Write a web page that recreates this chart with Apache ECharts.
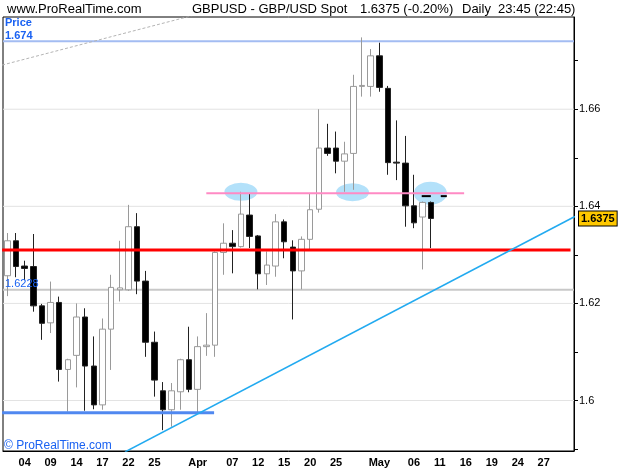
<!DOCTYPE html>
<html>
<head>
<meta charset="utf-8">
<script src="https://cdn.jsdelivr.net/npm/echarts@6/dist/echarts.min.js"></script>
<style>
  html, body { margin: 0; padding: 0; background: #fff; }
  #chart { width: 625px; height: 469px; }
</style>
</head>
<body>
<div id="chart"></div>
<script>
// trading days, 2 Mar 2011 .. 1 Jun 2011
const days = [
  '02','03','04','07','08','09','10','11','14','15','16','17','18','21','22','23','24','25','28','29','30','31',
  'Apr','04','05','06','07','08','11','12','13','14','15','18','19','20','21','22','25','26','27','28','29',
  'May','03','04','05','06','09','10','11','12','13','16','17','18','19','20','23','24','25','26','27','30','31',
  'Jun'
]
// which day labels are printed under the axis
const labelIdx = [2, 5, 8, 11, 14, 17, 22, 26, 29, 32, 35, 38, 43, 47, 50, 53, 56, 59, 62]

const opens = [
  1.6257, 1.6329, 1.6277, 1.6276, 1.6195, 1.6160, 1.6202, 1.6064, 1.6093, 1.6172,
  1.6071, 1.5991, 1.6147, 1.6228, 1.6228, 1.6358, 1.6246, 1.6120, 1.6020, 1.5981,
  1.6018, 1.6084, 1.6023, 1.6111, 1.6114, 1.6305, 1.6324, 1.6317, 1.6382, 1.6339,
  1.6261, 1.6277, 1.6368, 1.6316, 1.6267, 1.6332, 1.6394, 1.6520, 1.6520, 1.6493,
  1.6509, 1.6647, 1.6647, 1.6710, 1.6643, 1.6491, 1.6489, 1.6401, 1.6378, 1.6408
]
const closes = [
  1.6329, 1.6276, 1.6272, 1.6195, 1.6159, 1.6202, 1.6064, 1.6084, 1.6172, 1.6071,
  1.5991, 1.6147, 1.6233, 1.6232, 1.6358, 1.6246, 1.6120, 1.6042, 1.5981, 1.6020,
  1.6084, 1.6023, 1.6111, 1.6114, 1.6305, 1.6324, 1.6317, 1.6384, 1.6338, 1.6261,
  1.6279, 1.6368, 1.6327, 1.6267, 1.6332, 1.6393, 1.6520, 1.6509, 1.6493, 1.6508,
  1.6647, 1.6649, 1.6710, 1.6645, 1.6490, 1.6489, 1.6401, 1.6366, 1.6408, 1.6375
]
const lows = [
  1.6215, 1.6254, 1.6248, 1.6183, 1.6125, 1.6139, 1.6039, 1.5977, 1.6027, 1.5979,
  1.5982, 1.5981, 1.6063, 1.6204, 1.6226, 1.6219, 1.6090, 1.6008, 1.5939, 1.5946,
  1.5981, 1.6017, 1.5974, 1.6092, 1.6090, 1.6259, 1.6262, 1.6315, 1.6314, 1.6229,
  1.6238, 1.6255, 1.6293, 1.6167, 1.6229, 1.6312, 1.6387, 1.6504, 1.6468, 1.6430,
  1.6434, 1.6626, 1.6626, 1.6636, 1.6465, 1.6454, 1.6358, 1.6355, 1.6270, 1.6314
]
const highs = [
  1.6345, 1.6345, 1.6288, 1.6343, 1.6199, 1.6245, 1.6214, 1.6086, 1.6200, 1.6190,
  1.6132, 1.6169, 1.6259, 1.6329, 1.6403, 1.6386, 1.6267, 1.6142, 1.6038, 1.6036,
  1.6086, 1.6152, 1.6132, 1.6180, 1.6307, 1.6365, 1.6351, 1.6430, 1.6427, 1.6341,
  1.6307, 1.6384, 1.6373, 1.6330, 1.6338, 1.6426, 1.6600, 1.6570, 1.6554, 1.6533,
  1.6671, 1.6748, 1.6724, 1.6737, 1.6648, 1.6577, 1.6545, 1.6465, 1.6410, 1.6410
]

const yTicks = [1.59, 1.60, 1.61, 1.62, 1.63, 1.64, 1.65, 1.66, 1.67]
const yLabels = [1.60, 1.62, 1.64, 1.66]

// drawn levels and studies (x in day index)
const topLevel = 1.674
const greyLevel = 1.6228
const redLevel = 1.6310
const redSpan = [-0.6, 65.1]
const pinkLevel = 1.6427
const pinkSpan = [23.0, 52.8]
const lowLevel = 1.5975
const lowSpan = [-0.6, 23.9]
const lastPrice = 1.6375
const trendLine = [[13.6, 1.5894], [65.6, 1.6379]]
const dashLine = [[-0.6, 1.6691], [24.0, 1.6805]]
const circles = [[27.0, 1.6430], [39.9, 1.6429], [48.9, 1.6427]]
const ticks = [[[47.9, 1.6421], [48.95, 1.6421]], [[50.1, 1.6421], [50.8, 1.6421]]]

const chart = echarts.init(document.getElementById('chart'))
const font = '"Liberation Sans", Arial, sans-serif'
const blue = '#1a62f2'

function seg(points, color, width, z, type) {
  return {
    type: 'line', xAxisIndex: 1, yAxisIndex: 0, data: points, symbol: 'none',
    lineStyle: { color: color, width: width, type: type || 'solid' },
    silent: true, z: z
  }
}

function txt(x, y, text, size, color, weight) {
  return {
    type: 'text', x: x, y: y, z: 100,
    style: { text: text, fill: color, font: (weight || 'normal') + ' ' + size + 'px ' + font, verticalAlign: 'middle' }
  }
}

const option = {
  animation: false,
  backgroundColor: '#fff',
  textStyle: { fontFamily: font },
  grid: {
    left: 3, top: 17, right: 51, bottom: 18,
    show: true, borderColor: '#000', borderWidth: 1, backgroundColor: '#fff',
    outerBoundsMode: 'none'
  },
  xAxis: [
    {
      type: 'category', data: days, boundaryGap: true,
      axisLine: { show: true, onZero: false, lineStyle: { color: '#000' } },
      axisTick: { show: false },
      splitLine: { show: false },
      axisLabel: {
        interval: (i) => labelIdx.includes(i),
        color: '#000', fontSize: 11, fontWeight: 'bold', margin: 6
      }
    },
    { type: 'value', min: -0.5, max: 65.5, show: false }
  ],
  yAxis: {
    type: 'value', position: 'right', min: 1.5896, max: 1.6790,
    axisLine: { show: true, onZero: false, lineStyle: { color: '#000' } },
    axisTick: { show: true, inside: false, length: 4, customValues: yTicks, lineStyle: { color: '#000' } },
    axisLabel: { customValues: yLabels, color: '#000', fontSize: 11, margin: 5 },
    splitLine: { show: false }
  },
  series: [
    {
      type: 'scatter', xAxisIndex: 1, yAxisIndex: 0, silent: true, z: 1,
      symbol: 'circle',
      data: circles.map((c, i) => ({ value: c, symbolSize: i === 2 ? [33, 23] : [33, 18] })),
      itemStyle: { color: '#b3e1fa', opacity: 1 }
    },
    ...yLabels.map(v => seg([[-0.5, v], [65.5, v]], '#e3e3e3', 1, 1)),
    seg([[-0.5, greyLevel], [65.5, greyLevel]], '#c8c8c8', 2, 2),
    seg([[-0.5, topLevel], [65.5, topLevel]], '#a3bcf2', 2, 2),
    seg(dashLine, '#b4b4b4', 1, 2, [3, 2]),
    {
      type: 'candlestick', xAxisIndex: 0, yAxisIndex: 0, z: 3,
      barWidth: 6,
      data: opens.map((o, i) => [o, closes[i], lows[i], highs[i]]),
      itemStyle: { color: '#fff', color0: '#000', borderColor: '#9a9a9a', borderColor0: '#222', borderWidth: 1 }
    },
    seg([[redSpan[0], redLevel], [redSpan[1], redLevel]], '#ff0000', 3, 5),
    seg([[pinkSpan[0], pinkLevel], [pinkSpan[1], pinkLevel]], '#ff8ac4', 2, 5),
    seg([[lowSpan[0], lowLevel], [lowSpan[1], lowLevel]], '#5088f0', 3, 5),
    seg(trendLine, '#22aaf0', 1.5, 5),
    ...ticks.map(t => seg(t, '#000', 2, 5))
  ],
  graphic: [
    txt(7, 9, 'www.ProRealTime.com', 13, '#000'),
    txt(192, 9, 'GBPUSD - GBP/USD Spot', 13, '#000'),
    txt(360, 9, '1.6375 (-0.20%)', 13, '#000'),
    txt(462, 9, 'Daily  23:45 (22:45)', 13, '#000'),
    txt(5, 23, 'Price', 11, blue, 'bold'),
    txt(5, 36, '1.674', 11, blue, 'bold'),
    txt(5, 283.5, '1.6228', 11, blue),
    txt(4, 445.5, '\u00a9 ProRealTime.com', 12, blue)
  ]
}

chart.setOption(option)

// last price tag on the price scale, placed from the axis scale
const tagY = chart.convertToPixel({ yAxisIndex: 0 }, lastPrice)
chart.setOption({
  graphic: [{
    id: 'lastTag', type: 'text', x: 579, y: Math.round(tagY) + 0.5, z: 100,
    style: {
      text: lastPrice.toFixed(4), fill: '#000', font: 'bold 11px ' + font,
      verticalAlign: 'middle', backgroundColor: '#ffc800',
      borderColor: '#000', borderWidth: 1, padding: [2, 2, 1, 2]
    }
  }]
})
</script>
</body>
</html>
